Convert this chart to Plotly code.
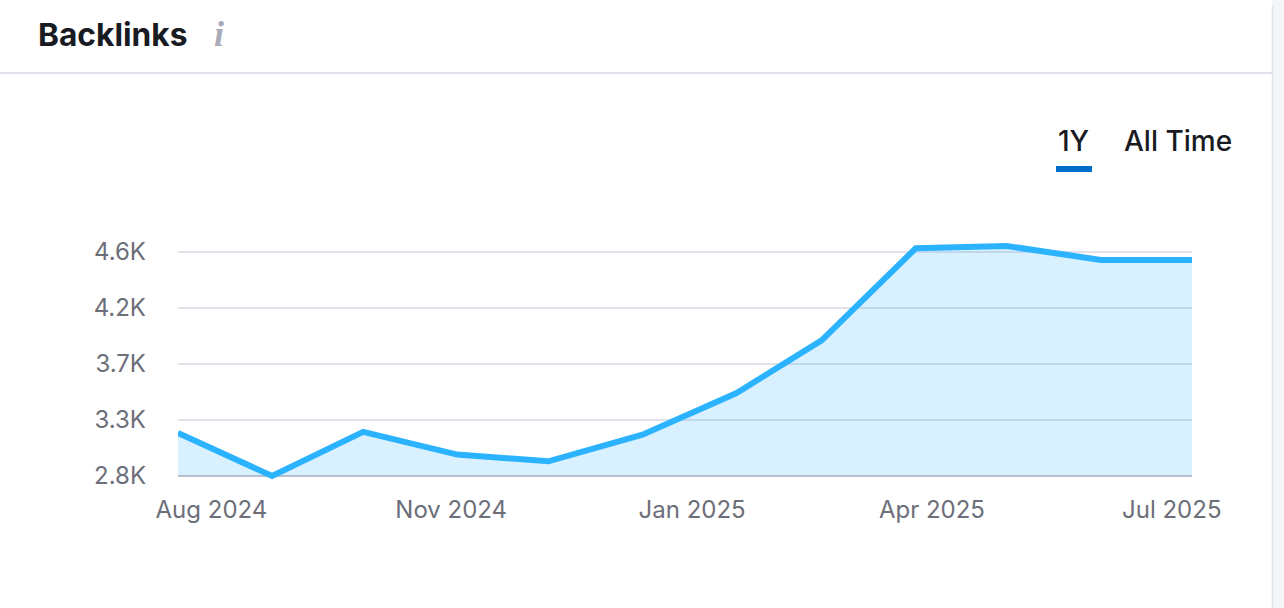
import plotly.graph_objects as go

months = ["2024-08-01","2024-09-01","2024-10-01","2024-11-01","2024-12-01","2025-01-01",
          "2025-02-01","2025-03-01","2025-04-01","2025-05-01","2025-06-01","2025-07-01"]
backlinks = [3146, 2800, 3155, 2972, 2918, 3132, 3467, 3890, 4630, 4648, 4536, 4536]
floor_values = [2800] * len(months)
y_ticks = [2800, 3250, 3700, 4150, 4600]
y_labels = ["2.8K", "3.3K", "3.7K", "4.2K", "4.6K"]
x_ticks = ["2024-08-12", "2024-10-30", "2025-01-17 08:00", "2025-04-06 08:00", "2025-06-24 08:00"]
x_labels = ["Aug 2024", "Nov 2024", "Jan 2025", "Apr 2025", "Jul 2025"]

W, H = 1284, 608
L, R, T, B = 178, 1192, 236, 480
def px(x): return (x - L) / (R - L)
def py(y): return (B - y) / (B - T)

K = (476 - 252) / 1800
FONT = "Inter, 'Noto Sans', sans-serif"
INK = "#191b23"
MUTED = "#6c6e79"
RULE = "#e0e1e9"

fig = go.Figure()
fig.add_trace(go.Scatter(x=months, y=floor_values, mode="lines",
                         line=dict(color="#b8bfd0", width=2), hoverinfo="skip"))
fig.add_trace(go.Scatter(x=months, y=backlinks, mode="lines", fill="tonexty",
                         fillcolor="rgba(43,179,255,0.18)",
                         line=dict(color="#2bb3ff", width=6, shape="linear"),
                         hoverinfo="skip"))

shapes = [
    dict(type="rect", xref="paper", yref="paper", layer="below",
         x0=px(1272), x1=px(1284), y0=py(608), y1=py(0),
         fillcolor="#f4f5f9", line_width=0),
    dict(type="line", xref="paper", yref="paper", layer="below",
         x0=px(1272.5), x1=px(1272.5), y0=py(608), y1=py(6),
         line=dict(color=RULE, width=1.5)),
    dict(type="line", xref="paper", yref="paper", layer="below",
         x0=px(0), x1=px(1272), y0=py(73), y1=py(73),
         line=dict(color=RULE, width=2)),
    dict(type="rect", xref="paper", yref="paper",
         x0=px(1056), x1=px(1092), y0=py(172), y1=py(166),
         fillcolor="#006dca", line_width=0),
]

def label(text, x, y, size, color=INK, weight=None, anchor="left", family=FONT):
    return dict(text=text, xref="paper", yref="paper", x=px(x), y=py(y),
                xanchor=anchor, yanchor="middle", showarrow=False,
                font=dict(family=family, size=size, color=color, weight=weight))

annotations = [
    label("Backlinks", 36, 34, 31.7, weight=700),
    label("<i>i</i>", 212, 34, 36, color="#a9abb8", weight=700, family="'Liberation Serif', serif"),
    label("1Y", 1056, 141, 28, weight=500),
    label("All Time", 1122, 141, 28, weight=500),
]

fig.update_layout(
    width=W, height=H, showlegend=False,
    margin=dict(l=L, r=W - R, t=T, b=H - B, pad=0),
    paper_bgcolor="white", plot_bgcolor="rgba(0,0,0,0)",
    shapes=shapes, annotations=annotations,
    xaxis=dict(type="date", range=[months[0], months[-1]], tickmode="array",
               tickvals=x_ticks, ticktext=x_labels, showgrid=False, zeroline=False,
               showline=False, ticks="", ticklabelstandoff=13,
               tickfont=dict(family=FONT, size=24, color=MUTED)),
    yaxis=dict(range=[2800 - 4 / K, 2800 + (476 - T) / K], tickmode="array",
               tickvals=y_ticks, ticktext=y_labels, showgrid=True, gridcolor=RULE,
               gridwidth=2, zeroline=False, showline=False, ticks="",
               ticklabelstandoff=31,
               tickfont=dict(family=FONT, size=24, color=MUTED)),
)

fig.write_html("out.html", config=dict(displayModeBar=False),
               post_script="document.body.style.margin='0';document.body.style.overflow='hidden';")
